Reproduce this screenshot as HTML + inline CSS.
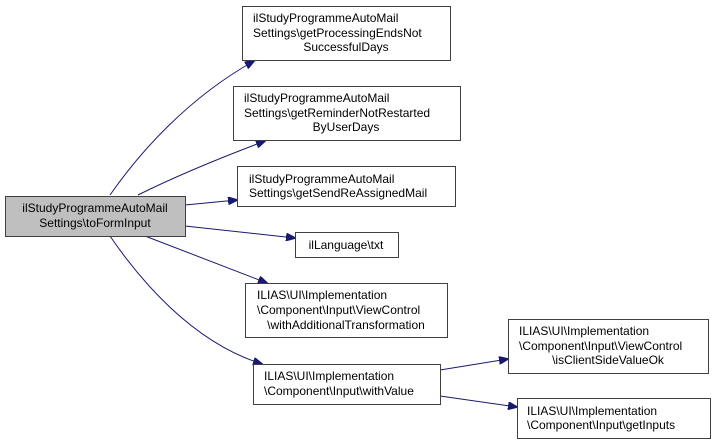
<!DOCTYPE html>
<html><head><meta charset="utf-8"><style>
html,body{margin:0;padding:0;background:#fff;}
svg{display:block;font-family:"Liberation Sans",Arial,sans-serif;font-size:12px;}
</style></head><body>
<svg width="715" height="446" viewBox="0 0 715 446" xmlns="http://www.w3.org/2000/svg">
<defs><marker id="a" markerWidth="10" markerHeight="8" refX="9" refY="4" orient="auto" markerUnits="userSpaceOnUse"><path d="M0,0 L10,4 L0,8 Z" fill="#191970" stroke="#191970"/></marker></defs>
<g fill="none" stroke="#191970" stroke-width="1" marker-end="url(#a)">
<path d="M110,195 C140,152 188,98 254,61"/>
<path d="M138,195 C172,178 220,158 265,141"/>
<path d="M185,205 L237,200"/>
<path d="M185,226 L295,238"/>
<path d="M145,236 L267,283"/>
<path d="M110,236 C140,280 192,342 262,364"/>
<path d="M440,370 L508,359"/>
<path d="M440,396 L517,407"/>
</g>
<g stroke="#404040" stroke-width="1">
<rect x="5.5" y="196.5" width="180" height="40" fill="#bfbfbf"/>
<rect x="242.5" y="6.5" width="208" height="54" fill="#fff"/>
<rect x="233.5" y="86.5" width="227" height="54" fill="#fff"/>
<rect x="237.5" y="166.5" width="218" height="40" fill="#fff"/>
<rect x="295.5" y="232.5" width="103" height="25" fill="#fff"/>
<rect x="245.5" y="283.5" width="202" height="54" fill="#fff"/>
<rect x="253.5" y="364.5" width="187" height="40" fill="#fff"/>
<rect x="508.5" y="319.5" width="200" height="54" fill="#fff"/>
<rect x="517.5" y="398.5" width="193" height="40" fill="#fff"/>
</g>
<g fill="#000">
<text x="95" y="212" text-anchor="middle">ilStudyProgrammeAutoMail</text>
<text x="95" y="227" text-anchor="middle">Settings\toFormInput</text>
<text x="253" y="22">ilStudyProgrammeAutoMail</text>
<text x="253" y="37">Settings\getProcessingEndsNot</text>
<text x="346" y="51" text-anchor="middle">SuccessfulDays</text>
<text x="244" y="102">ilStudyProgrammeAutoMail</text>
<text x="244" y="117">Settings\getReminderNotRestarted</text>
<text x="346" y="131" text-anchor="middle">ByUserDays</text>
<text x="249" y="183">ilStudyProgrammeAutoMail</text>
<text x="249" y="197">Settings\getSendReAssignedMail</text>
<text x="346" y="249" text-anchor="middle">ilLanguage\txt</text>
<text x="257" y="299">ILIAS\UI\Implementation</text>
<text x="257" y="314">\Component\Input\ViewControl</text>
<text x="346" y="329" text-anchor="middle">\withAdditionalTransformation</text>
<text x="264" y="380">ILIAS\UI\Implementation</text>
<text x="264" y="395">\Component\Input\withValue</text>
<text x="519" y="335">ILIAS\UI\Implementation</text>
<text x="519" y="350">\Component\Input\ViewControl</text>
<text x="608" y="364" text-anchor="middle">\isClientSideValueOk</text>
<text x="527" y="415">ILIAS\UI\Implementation</text>
<text x="527" y="429">\Component\Input\getInputs</text>
</g>
</svg>
</body></html>
